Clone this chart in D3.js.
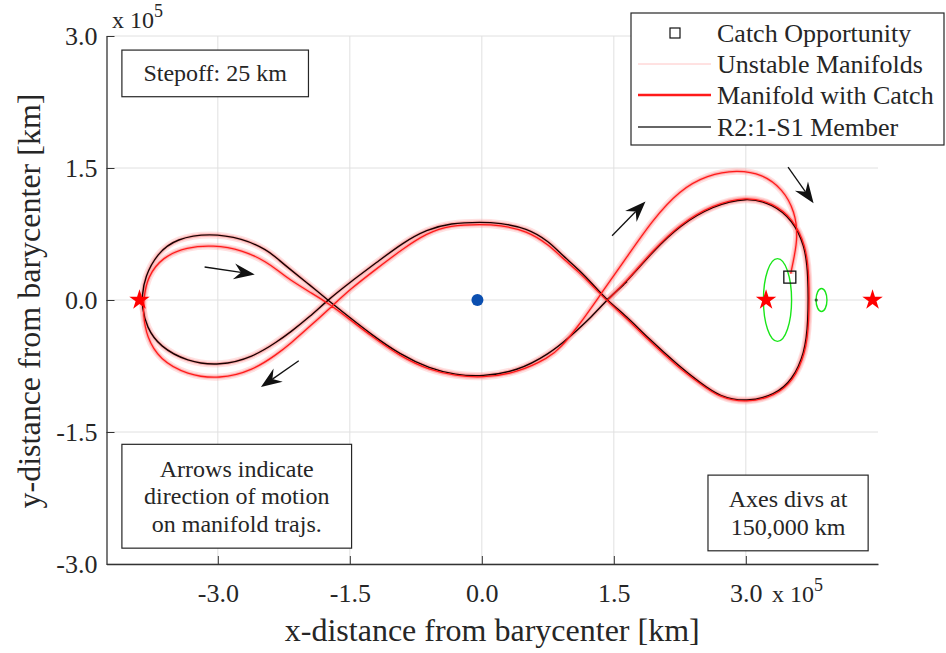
<!DOCTYPE html>
<html>
<head>
<meta charset="utf-8">
<script src="https://cdn.jsdelivr.net/npm/d3@7"></script>
<style>
body { margin: 0; background: #fff; }
text { font-family: "Liberation Serif", "Times New Roman", serif; fill: #262626; }
</style>
</head>
<body>
<div id="chart"></div>
<script>
// values in units of 1e5 km
var xTicks = [-3.0, -1.5, 0.0, 1.5, 3.0];
var yTicks = [-3.0, -1.5, 0.0, 1.5, 3.0];

// R2:1-S1 member (periodic orbit)
var orbit = [
  [1.42, 0.00], [1.65, 0.21], [1.94, 0.55], [2.25, 0.85], [2.62, 1.07], [3.01, 1.17],
  [3.31, 1.09], [3.53, 0.91], [3.67, 0.62], [3.71, 0.30], [3.71, -0.26], [3.67, -0.60],
  [3.53, -0.91], [3.33, -1.08], [3.01, -1.16], [2.70, -1.10], [2.48, -0.94], [2.25, -0.76],
  [1.875, -0.42], [1.65, -0.19], [1.42, 0.00], [1.26, 0.18], [1.11, 0.34], [0.89, 0.53],
  [0.77, 0.66], [0.51, 0.82], [0.20, 0.875], [0.00, 0.886], [-0.36, 0.875], [-0.625, 0.80],
  [-0.90, 0.65], [-1.19, 0.43], [-1.50, 0.20], [-1.75, 0.00], [-1.955, -0.19], [-2.18, -0.37],
  [-2.32, -0.47], [-2.60, -0.65], [-2.98, -0.75], [-3.35, -0.70], [-3.66, -0.53], [-3.81, -0.31],
  [-3.86, -0.08], [-3.86, 0.05], [-3.83, 0.26], [-3.69, 0.53], [-3.47, 0.70], [-3.09, 0.76],
  [-2.72, 0.70], [-2.44, 0.57], [-2.30, 0.45], [-2.18, 0.35], [-1.955, 0.17], [-1.75, 0.00],
  [-1.50, -0.20], [-1.27, -0.38], [-0.93, -0.62], [-0.59, -0.78], [-0.30, -0.85], [0.00, -0.87],
  [0.40, -0.81], [0.77, -0.61], [1.00, -0.42], [1.26, -0.18], [1.42, 0.00], [1.65, 0.21]
];

// unstable manifold trajectory that reaches the catch point
var catchManifold = [
  [1.43, 0.00], [1.65, 0.22], [1.94, 0.56], [2.25, 0.86], [2.62, 1.08], [3.01, 1.18],
  [3.31, 1.10], [3.54, 0.92], [3.68, 0.62], [3.72, 0.30], [3.72, -0.26], [3.68, -0.60],
  [3.54, -0.92], [3.33, -1.09], [3.01, -1.17], [2.70, -1.11], [2.48, -0.95], [2.25, -0.78],
  [1.875, -0.44], [1.65, -0.21], [1.42, -0.01], [1.26, 0.16], [1.11, 0.31], [0.89, 0.50],
  [0.77, 0.62], [0.51, 0.79], [0.20, 0.85], [0.00, 0.86], [-0.36, 0.85], [-0.625, 0.76],
  [-0.90, 0.58], [-1.19, 0.36], [-1.50, 0.12], [-1.69, -0.06], [-1.955, -0.30], [-2.18, -0.50],
  [-2.32, -0.61], [-2.60, -0.80], [-2.98, -0.90], [-3.35, -0.85], [-3.66, -0.68], [-3.81, -0.42],
  [-3.85, -0.15], [-3.84, 0.03], [-3.80, 0.26], [-3.63, 0.49], [-3.35, 0.60], [-3.06, 0.625],
  [-2.72, 0.57], [-2.44, 0.43], [-2.30, 0.32], [-2.18, 0.23], [-1.955, 0.09], [-1.74, -0.04],
  [-1.50, -0.22], [-1.27, -0.40], [-0.93, -0.64], [-0.59, -0.80], [-0.30, -0.86], [0.00, -0.885],
  [0.40, -0.83], [0.77, -0.65], [0.89, -0.55], [1.11, -0.28], [1.34, 0.05], [1.65, 0.49],
  [1.94, 0.91], [2.25, 1.25], [2.56, 1.42], [2.90, 1.48], [3.19, 1.43], [3.42, 1.26],
  [3.56, 1.00], [3.59, 0.72], [3.55, 0.49], [3.51, 0.30]
];

var catchPoint = [3.50, 0.26];
var librationPts = [[-3.89, 0.0], [3.23, 0.0], [4.44, 0.0]];
var earth = [-0.05, 0.0];
var moon = [3.80, 0.0];
// Lyapunov orbits: [cx, cy, rx, ry]
var lyapunov = [[3.36, 0.0, 0.16, 0.47], [3.86, 0.0, 0.062, 0.13]];
// direction arrows: [x0, y0, x1, y1]
var arrows = [
  [-3.15, 0.375, -2.58, 0.29],
  [-2.08, -0.69, -2.51, -0.99],
  [1.48, 0.73, 1.86, 1.12],
  [3.48, 1.51, 3.77, 1.10]
];
var legendLabels = ["Catch Opportunity", "Unstable Manifolds", "Manifold with Catch", "R2:1-S1 Member"];

var W = 946, H = 653;
var margin = {top: 36, right: 68, bottom: 89, left: 106.5};
var width = W - margin.left - margin.right;
var height = H - margin.top - margin.bottom;

var svg = d3.select("#chart").append("svg")
    .attr("width", W)
    .attr("height", H);
svg.append("rect").attr("width", W).attr("height", H).attr("fill", "#fff");

var x = d3.scaleLinear().domain([-4.265, 4.502]).range([margin.left, margin.left + width]);
var y = d3.scaleLinear().domain([-3, 3]).range([margin.top + height, margin.top]);

//grid
var grid = svg.append("g").attr("class", "grid");
grid.selectAll(".gx").data(xTicks).enter().append("line")
    .attr("x1", function(d){ return x(d); }).attr("x2", function(d){ return x(d); })
    .attr("y1", y(-3)).attr("y2", y(3))
    .attr("stroke", "#e0e0e0").attr("stroke-width", 1);
grid.selectAll(".gy").data(yTicks).enter().append("line")
    .attr("x1", x.range()[0]).attr("x2", x.range()[1])
    .attr("y1", function(d){ return y(d); }).attr("y2", function(d){ return y(d); })
    .attr("stroke", "#e0e0e0").attr("stroke-width", 1);

//axes
var fmt = function(d){ return d.toFixed(1); };
var xAxis = d3.axisBottom(x).tickValues(xTicks).tickSizeInner(-8).tickSizeOuter(0).tickFormat(fmt);
var yAxis = d3.axisLeft(y).tickValues(yTicks).tickSizeInner(-8).tickSizeOuter(0).tickFormat(fmt);

var gx = svg.append("g")
    .attr("transform", "translate(0," + y(-3) + ")")
    .call(xAxis);
var gy = svg.append("g")
    .attr("transform", "translate(" + x.range()[0] + ",0)")
    .call(yAxis);
[gx, gy].forEach(function(g){
    g.select(".domain").attr("stroke", "#333").attr("stroke-width", 1.3);
    g.selectAll(".tick line").attr("stroke", "#333");
    g.selectAll(".tick text").attr("font-size", 26).attr("fill", "#262626")
        .attr("font-family", "'Liberation Serif', 'Times New Roman', serif");
});
gx.selectAll(".tick text").attr("y", 38).attr("dy", 0);
gy.selectAll(".tick text").attr("x", -9).attr("dy", "0.34em");

// exponent labels
function expLabel(px, py) {
    var t = svg.append("text").attr("x", px).attr("y", py).attr("font-size", 24);
    t.append("tspan").text("x 10");
    t.append("tspan").attr("dy", -11).attr("font-size", 18).text("5");
}
expLabel(112, 28);
expLabel(772, 602);

// axis titles
svg.append("text")
    .attr("x", (x.range()[0] + x.range()[1]) / 2).attr("y", 641)
    .attr("text-anchor", "middle").attr("font-size", 32)
    .text("x-distance from barycenter [km]");
svg.append("text")
    .attr("transform", "translate(40," + 301 + ") rotate(-90)")
    .attr("text-anchor", "middle").attr("font-size", 32)
    .text("y-distance from barycenter [km]");

var line = d3.line()
    .x(function(d){ return x(d[0]); })
    .y(function(d){ return y(d[1]); })
    .curve(d3.curveBasis);

var plot = svg.append("g");

// unstable manifold bundle (pink halo)
[orbit, catchManifold].forEach(function(p){
    plot.append("path").attr("d", line(p)).attr("fill", "none")
        .attr("stroke", "#ffa8a8").attr("stroke-opacity", 0.35).attr("stroke-width", 7);
    plot.append("path").attr("d", line(p)).attr("fill", "none")
        .attr("stroke", "#ff7a7a").attr("stroke-opacity", 0.45).attr("stroke-width", 3.5);
});

// orbit
plot.append("path").attr("d", line(orbit)).attr("fill", "none")
    .attr("stroke", "#1a0000").attr("stroke-width", 1.4);

// catch manifold
plot.append("path").attr("d", line(catchManifold)).attr("fill", "none")
    .attr("stroke", "#ff1a1a").attr("stroke-width", 1.3);

// lyapunov orbits
plot.selectAll(".lyap").data(lyapunov).enter().append("ellipse")
    .attr("cx", function(d){ return x(d[0]); })
    .attr("cy", function(d){ return y(d[1]); })
    .attr("rx", function(d){ return x(d[0] + d[2]) - x(d[0]); })
    .attr("ry", function(d){ return y(d[1]) - y(d[1] + d[3]); })
    .attr("fill", "none").attr("stroke", "#19e619").attr("stroke-width", 1.4);

// moon
plot.append("circle").attr("cx", x(moon[0])).attr("cy", y(moon[1])).attr("r", 1.6).attr("fill", "#2d6b2d");

// earth
plot.append("circle").attr("cx", x(earth[0])).attr("cy", y(earth[1])).attr("r", 6).attr("fill", "#0b4fb0");

// libration points
var star = d3.symbol().type(d3.symbolStar).size(130);
plot.selectAll(".lp").data(librationPts).enter().append("path")
    .attr("d", star)
    .attr("transform", function(d){ return "translate(" + x(d[0]) + "," + y(d[1]) + ")"; })
    .attr("fill", "#ff0000");

// catch opportunity
plot.append("rect")
    .attr("x", x(catchPoint[0]) - 6).attr("y", y(catchPoint[1]) - 6)
    .attr("width", 12).attr("height", 12)
    .attr("fill", "none").attr("stroke", "#111").attr("stroke-width", 1.3);

// arrows
arrows.forEach(function(a){
    var x0 = x(a[0]), y0 = y(a[1]), x1 = x(a[2]), y1 = y(a[3]);
    var ang = Math.atan2(y1 - y0, x1 - x0);
    var L = 21, Wd = 8, notch = 14;
    var ca = Math.cos(ang), sa = Math.sin(ang);
    var bx = x1 - L * ca, by = y1 - L * sa;
    var nx = x1 - notch * ca, ny = y1 - notch * sa;
    plot.append("line").attr("x1", x0).attr("y1", y0).attr("x2", nx).attr("y2", ny)
        .attr("stroke", "#111").attr("stroke-width", 1.3);
    var pts = [[x1, y1], [bx - Wd * sa, by + Wd * ca], [nx, ny], [bx + Wd * sa, by - Wd * ca]];
    plot.append("polygon").attr("points", pts.map(function(p){ return p.join(","); }).join(" "))
        .attr("fill", "#111");
});

// text boxes
function textBox(x0, y0, x1, y1, lines) {
    var px0 = x(x0), px1 = x(x1), py0 = y(y0), py1 = y(y1);
    svg.append("rect").attr("x", px0).attr("y", py0)
        .attr("width", px1 - px0).attr("height", py1 - py0)
        .attr("fill", "#fff").attr("stroke", "#262626").attr("stroke-width", 1.2);
    var cy = (py0 + py1) / 2, lh = 27.5;
    lines.forEach(function(s, i){
        svg.append("text")
            .attr("x", (px0 + px1) / 2)
            .attr("y", cy + (i - (lines.length - 1) / 2) * lh + 8)
            .attr("text-anchor", "middle").attr("font-size", 24)
            .text(s);
    });
}
textBox(-4.09, 2.84, -1.97, 2.31, ["Stepoff: 25 km"]);
textBox(-4.09, -1.64, -1.48, -2.82, ["Arrows indicate", "direction of motion", "on manifold trajs."]);
textBox(2.57, -1.99, 4.39, -2.85, ["Axes divs at", "150,000 km"]);

// legend
var lg = svg.append("g").attr("transform", "translate(631,13)");
lg.append("rect").attr("width", 313).attr("height", 132)
    .attr("fill", "#fff").attr("stroke", "#262626").attr("stroke-width", 1.2);
var rowY = [20, 51, 82, 114];
lg.append("rect").attr("x", 39).attr("y", rowY[0] - 5).attr("width", 10).attr("height", 10)
    .attr("fill", "none").attr("stroke", "#111").attr("stroke-width", 1.2);
lg.append("line").attr("x1", 7).attr("x2", 80).attr("y1", rowY[1]).attr("y2", rowY[1])
    .attr("stroke", "#ffc4c4").attr("stroke-width", 1);
lg.append("line").attr("x1", 7).attr("x2", 80).attr("y1", rowY[2]).attr("y2", rowY[2])
    .attr("stroke", "#ff1a1a").attr("stroke-width", 2.4);
lg.append("line").attr("x1", 7).attr("x2", 80).attr("y1", rowY[3]).attr("y2", rowY[3])
    .attr("stroke", "#333").attr("stroke-width", 1.3);
lg.selectAll(".lt").data(legendLabels).enter().append("text")
    .attr("x", 86).attr("y", function(d, i){ return rowY[i] + 9; })
    .attr("font-size", 26)
    .text(function(d){ return d; });
</script>
</body>
</html>
